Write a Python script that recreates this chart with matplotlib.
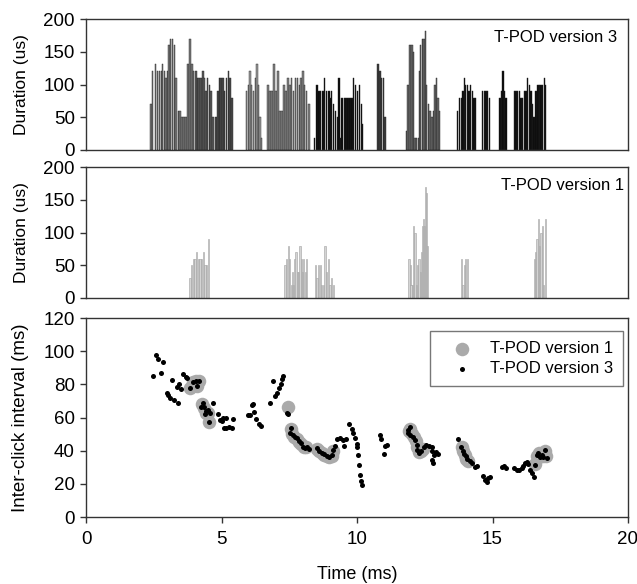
import numpy as np
import matplotlib
matplotlib.use('Agg')
import matplotlib.pyplot as plt

plt.rcParams['font.family'] = ['Liberation Sans', 'DejaVu Sans']

# T-POD version 3: click time (ms) and duration (us)
v3_time = [2.39, 2.46, 2.56, 2.63, 2.71, 2.78, 2.83, 2.89, 2.95, 3.00, 3.06, 3.12, 3.20, 3.26,
           3.32, 3.41, 3.47, 3.54, 3.62, 3.69, 3.76, 3.84, 3.91, 3.97, 4.05, 4.11, 4.17, 4.24,
           4.31, 4.35, 4.43, 4.49, 4.55, 4.61, 4.68, 4.80, 4.87, 4.92, 4.99, 5.06, 5.12, 5.19,
           5.25, 5.31, 5.39,
           5.93, 6.00, 6.05, 6.10, 6.18, 6.25, 6.31, 6.37, 6.42, 6.47,
           6.72, 6.79, 6.86, 6.94, 7.01, 7.09, 7.16, 7.23, 7.31, 7.38, 7.45, 7.53, 7.59, 7.65,
           7.73, 7.80, 7.87, 7.93, 8.00, 8.07, 8.14, 8.22,
           8.44, 8.52, 8.59, 8.66, 8.74, 8.81, 8.88, 8.96, 9.01, 9.06, 9.13, 9.20, 9.28, 9.33,
           9.39, 9.45, 9.53, 9.60, 9.67, 9.75, 9.82, 9.87, 9.94, 10.02, 10.09, 10.17, 10.21,
           10.78, 10.84, 10.91, 10.97, 11.03,
           11.83, 11.89, 11.96, 12.03, 12.08, 12.14, 12.20, 12.26, 12.30, 12.35, 12.41, 12.47,
           12.53, 12.57, 12.63, 12.69, 12.76, 12.82, 12.88, 12.93, 12.99, 13.05,
           13.70, 13.78, 13.85, 13.92, 13.96, 14.01, 14.07, 14.13, 14.19, 14.26, 14.32, 14.38,
           14.64, 14.70, 14.76, 14.82, 14.88,
           15.28, 15.34, 15.39, 15.44, 15.49,
           15.81, 15.87, 15.93, 15.99, 16.05, 16.11, 16.18, 16.24, 16.30, 16.36, 16.42, 16.48,
           16.54, 16.61, 16.67, 16.73, 16.79, 16.85, 16.91, 16.96]
v3_dur = [70, 120, 131, 120, 120, 120, 131, 120, 110, 120, 161, 170, 170, 161,
          110, 60, 60, 50, 50, 50, 131, 170, 131, 120, 120, 110, 110, 110,
          120, 110, 90, 110, 100, 90, 50, 50, 90, 110, 110, 110, 90, 110,
          120, 110, 80,
          90, 100, 120, 100, 90, 110, 131, 100, 50, 19,
          100, 90, 90, 131, 90, 120, 60, 60, 100, 90, 110, 100, 110, 90,
          110, 110, 100, 110, 120, 100, 90, 70,
          19, 100, 90, 90, 90, 110, 90, 90, 80, 90, 70, 60, 50, 110,
          19, 80, 80, 80, 80, 80, 80, 110, 100, 90, 100, 70, 40,
          131, 120, 110, 110, 50,
          29, 100, 161, 161, 150, 19, 19, 19, 120, 161, 170, 170,
          181, 100, 70, 60, 50, 60, 100, 110, 80, 60,
          60, 80, 80, 90, 110, 100, 100, 90, 100, 90, 80, 80,
          90, 90, 90, 90, 80,
          80, 90, 120, 90, 80,
          90, 90, 90, 90, 80, 80, 90, 90, 110, 100, 90, 70,
          50, 90, 100, 100, 100, 100, 110, 100]

# shade of each click train in the version 3 panel (train start times, ms)
v3_train_start = [0, 4.05, 4.75, 5.8, 6.6, 8.4, 10.5, 11.7, 13.5]
v3_train_shade = ['#7a7a7a', '#5a5a5a', '#4a4a4a', '#9a9a9a', '#858585',
                  '#0a0a0a', '#3c3c3c', '#6a6a6a', '#0a0a0a']

# T-POD version 1
v1_time = [3.84, 3.90, 3.96, 4.02, 4.08, 4.15, 4.21, 4.27, 4.33, 4.39, 4.45, 4.53,
           7.34, 7.41, 7.47, 7.50, 7.57, 7.61, 7.66, 7.71, 7.75, 7.80, 7.85, 7.90, 7.95,
           8.00, 8.04, 8.09, 8.14,
           8.48, 8.52, 8.57, 8.64, 8.70, 8.76, 8.82, 8.88, 8.94, 9.00, 9.07, 9.13,
           11.92, 11.96, 11.99, 12.04, 12.09, 12.14, 12.19, 12.24, 12.29, 12.33, 12.39, 12.42,
           12.46, 12.50, 12.53, 12.57, 12.61,
           13.86, 13.91, 13.96, 14.01, 14.07,
           16.54, 16.59, 16.64, 16.69, 16.74, 16.79, 16.84, 16.89, 16.96]
v1_dur = [30, 50, 60, 60, 70, 60, 60, 60, 70, 50, 50, 90,
          50, 60, 80, 60, 20, 40, 20, 60, 70, 40, 40, 80, 60,
          40, 60, 40, 60,
          50, 30, 50, 50, 20, 20, 80, 40, 60, 20, 30, 20,
          60, 50, 20, 20, 110, 100, 20, 50, 60, 40, 70, 110,
          120, 110, 170, 160, 80,
          60, 20, 50, 60, 60,
          60, 70, 90, 120, 80, 100, 110, 20, 120]

# inter-click intervals (ms)
ici3_time = [2.48, 2.57, 2.67, 2.76, 2.85, 2.98, 3.02, 3.10, 3.16, 3.25, 3.35, 3.40, 3.44,
             3.52, 3.59, 3.68, 3.74, 3.84, 3.96, 4.06, 4.16, 4.08, 4.24, 4.30, 4.34, 4.43,
             4.51, 4.40, 4.57, 4.54, 4.67, 4.86, 4.93, 5.00, 5.05, 5.18, 5.41, 5.08, 5.17,
             5.27, 5.37, 5.99, 6.05, 6.13, 6.17, 6.21, 6.29, 6.40, 6.46, 6.79, 6.89, 6.97,
             7.04, 7.12, 7.20, 7.24, 7.28, 7.40, 7.45, 7.55, 7.53, 7.65, 7.71, 7.77, 7.86,
             7.95, 8.01, 8.07, 8.15, 8.24, 8.51, 8.60, 8.70, 8.79, 8.88, 8.98, 9.06, 9.13,
             9.20, 9.25, 9.37, 9.50, 9.59, 9.52, 9.70, 9.80, 9.86, 9.93, 10.01, 9.99, 10.05,
             10.09, 10.11, 10.14, 10.17, 10.85, 10.90, 11.03, 11.10, 11.00,
             11.90, 11.96, 11.88, 11.95, 12.08, 12.14, 12.20, 12.23, 12.28, 12.38, 12.47,
             12.56, 12.65, 12.75, 12.78, 12.84, 12.90, 12.98, 12.76, 12.81,
             13.74, 13.83, 13.90, 13.95, 14.02, 14.07, 14.16, 14.23, 14.35, 14.41,
             14.64, 14.72, 14.78, 14.84, 14.91, 15.34, 15.41, 15.50,
             15.79, 15.89, 15.99, 16.08, 16.14, 16.20, 16.26, 16.32, 16.40, 16.47, 16.53,
             16.57, 16.63, 16.69, 16.75, 16.81, 16.87, 16.93, 17.00]
ici3_val = [85, 97.7, 95, 86.7, 93.7, 74.6, 73.5, 71.6, 82.6, 70.6, 78.6, 69, 80,
            77, 86, 84.5, 84, 77.6, 81.6, 82.2, 82.2, 79, 66.5, 69, 66.5, 64,
            64.8, 62, 63, 57.5, 69, 62, 58.5, 58, 59.5, 59.5, 59, 53.6, 53.8,
            54.5, 53.6, 61.5, 61.5, 67.5, 68, 63.5, 59, 56, 55, 69, 82, 73,
            75, 78, 80.5, 83, 85, 63, 62, 53.5, 50.4, 49.5, 48.5, 47.5, 46,
            44.5, 42.5, 41.5, 42.5, 40.8, 41.4, 40, 38.8, 38, 36.8, 36, 37.4, 40.4,
            43, 46.8, 47.4, 46.4, 46.8, 42.8, 56, 52.9, 50.8, 47.4, 44, 42.4, 37.4,
            31.4, 25.3, 22, 19, 49.5, 47, 42.8, 43.5, 38,
            52.4, 54, 50.4, 49.4, 48.4, 46.4, 43.5, 40.4, 38.6, 40, 42.4,
            43.5, 43, 42.4, 40, 37.4, 39, 38, 34.4, 32.7,
            46.8, 42.4, 40, 38, 36.5, 35, 34, 32.7, 30, 30.8,
            25, 22.5, 21, 23.5, 24, 30, 30.8, 29.6,
            29.6, 28.6, 28.6, 29.6, 31, 32.3, 33, 31.8, 28.6, 26.6, 24.3,
            31.4, 37.4, 38.4, 36.4, 37.4, 36, 40.4, 35.4]

ici1_time = [3.84, 3.96, 4.06, 4.16, 4.08, 4.27, 4.34, 4.43, 4.51, 4.54,
             7.47, 7.55, 7.60, 7.68, 7.77, 7.86, 7.95, 8.04, 8.13,
             8.51, 8.60, 8.70, 8.79, 8.88, 8.98, 9.06, 9.13,
             11.92, 11.96, 12.02, 12.10, 12.16, 12.22, 12.28, 12.38, 12.45,
             13.86, 13.92, 13.97, 14.03, 14.08,
             16.57, 16.63, 16.70, 16.78, 16.86, 16.93, 16.97]
ici1_val = [78, 81.6, 82, 82, 79, 68, 66, 63, 63, 57.5,
            66.5, 53, 50, 48.5, 47, 45.5, 44, 42, 42,
            41, 40, 38.5, 37.5, 36.5, 36, 37, 40,
            52, 53, 50, 48, 46, 42, 39, 40, 41,
            42, 40, 37.5, 35, 34,
            32, 37, 38.5, 37, 36.5, 40, 37]

W, H = 637, 584
fig = plt.figure(figsize=(W / 100, H / 100), dpi=100)

def px_axes(l, t, r, b):
    return fig.add_axes([l / W, 1 - b / H, (r - l) / W, (b - t) / H])

ax1 = px_axes(86, 19, 628, 150)
ax2 = px_axes(86, 167, 628, 298)
ax3 = px_axes(86, 318, 628, 517)

edge = '#333333'
for ax in (ax1, ax2, ax3):
    for s in ax.spines.values():
        s.set_color(edge)
        s.set_linewidth(1.0)
    ax.set_xlim(0, 20)
    ax.tick_params(axis='y', direction='out', length=4, width=1, color=edge,
                   labelsize=13.5, pad=4)
    ax.yaxis.set_label_coords(-0.105, 0.5)

# top panel
t3 = np.array(v3_time)
idx = np.searchsorted(v3_train_start, t3, side='right') - 1
cols = [v3_train_shade[i] for i in idx]
ax1.bar(t3, v3_dur, width=0.055, color=cols, edgecolor='#222222', linewidth=0.3)
ax1.set_ylim(0, 200)
ax1.set_yticks([0, 50, 100, 150, 200])
ax1.set_xticks([])
ax1.set_ylabel('Duration (us)', fontsize=12.5)
ax1.text(15.05, 172, 'T-POD version 3', fontsize=12, va='center')

# middle panel
ax2.bar(v1_time, v1_dur, width=0.045, color='#d4d4d4', edgecolor='#a0a0a0',
        linewidth=0.4)
ax2.set_ylim(0, 200)
ax2.set_yticks([0, 50, 100, 150, 200])
ax2.set_xticks([])
ax2.set_ylabel('Duration (us)', fontsize=12.5)
ax2.text(15.3, 172, 'T-POD version 1', fontsize=12, va='center')

# bottom panel
ax3.scatter(ici1_time, ici1_val, s=95, color='#aaaaaa', linewidths=0,
            label='T-POD version 1', zorder=2)
ax3.scatter(ici3_time, ici3_val, s=13, color='black', linewidths=0,
            label='T-POD version 3', zorder=3)
ax3.set_ylim(0, 120)
ax3.set_yticks(np.arange(0, 121, 20))
ax3.set_xticks([0, 5, 10, 15, 20])
ax3.tick_params(axis='x', direction='out', length=4, width=1, color=edge,
                labelsize=13.5, pad=6)
ax3.set_ylabel('Inter-click interval (ms)', fontsize=13.5)
ax3.set_xlabel('Time (ms)', fontsize=13, labelpad=13)
leg = ax3.legend(loc='upper right', bbox_to_anchor=(0.991, 0.935), borderaxespad=0,
                 fontsize=12, frameon=True, fancybox=False, edgecolor='#555555',
                 handlelength=2.6, handletextpad=0.4, borderpad=0.6,
                 labelspacing=0.3)
leg.get_frame().set_linewidth(1.0)

fig.savefig('out.png', dpi=100)
